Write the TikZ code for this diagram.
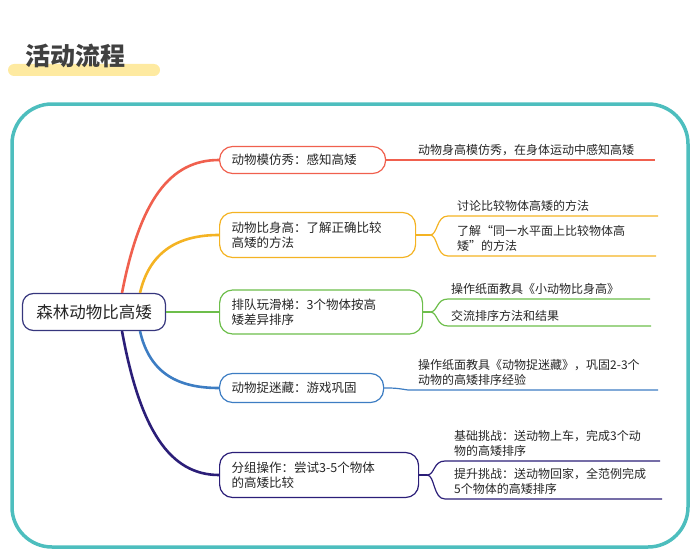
\documentclass[tikz,border=0pt]{standalone}
\usepackage{fontspec}
\setmainfont{Noto Sans CJK SC}
\definecolor{cR}{HTML}{F0604E}
\definecolor{cO}{HTML}{F4B323}
\definecolor{cG}{HTML}{6DBE4B}
\definecolor{cB}{HTML}{3D7DC3}
\definecolor{cN}{HTML}{2B1E78}
\definecolor{cT}{HTML}{4DBEBE}
\begin{document}
\begin{tikzpicture}[x=1pt,y=-1pt,
 br/.style={draw=#1,rounded corners=13pt,line width=1.2pt,fill=white,font=\fontsize{12.5}{15}\selectfont,text=black!85,align=left,anchor=west,inner xsep=12pt},
 lf/.style={font=\fontsize{12}{15}\selectfont,text=black!85,align=left,anchor=south west,inner sep=2pt},
 ul/.style={draw=#1,line width=1.2pt},
 tr/.style={draw=#1,line width=2.6pt}]
\useasboundingbox (0,0) rectangle (700,559);
\fill[yellow!60!orange!35,rounded corners=6pt] (8,64) rectangle (160,76);
\node[font=\fontsize{25}{28}\bfseries\selectfont,text=black!75,anchor=west] (title) at (22,56) {活动流程};
\draw[draw=cT,line width=3.5pt,rounded corners=40pt] (12,104) rectangle (688,547);
% root
\node[draw=gray!60!blue!70!black,line width=1.2pt,rounded corners=11pt,minimum width=143pt,minimum height=37pt,font=\fontsize{16.5}{18}\selectfont,text=black!85] (root) at (94,312) {森林动物比高矮};
% branches
\node[br=cR,minimum height=27pt,text width=142pt] (b1) at (219,160) {动物模仿秀：感知高矮};
\node[br=cO,minimum height=45pt,text width=172pt] (b2) at (219,235) {动物比身高：了解正确比较\\高矮的方法};
\node[br=cG,minimum height=44pt,text width=179pt] (b3) at (219,312) {排队玩滑梯：3个物体按高\\矮差异排序};
\node[br=cB,minimum height=29pt,text width=140pt] (b4) at (219,388) {动物捉迷藏：游戏巩固};
\node[br=cN,minimum height=45pt,text width=175pt] (b5) at (219,475) {分组操作：尝试3-5个物体\\的高矮比较};
% root connectors
\draw[tr=cR] (root.north) ++(28,0) .. controls (140,200) and (170,160) .. (b1.west);
\draw[tr=cO] (root.north) ++(46,0) .. controls (150,250) and (180,235) .. (b2.west);
\draw[tr=cG] (root.east) -- (b3.west);
\draw[tr=cB] (root.south) ++(46,0) .. controls (150,375) and (180,388) .. (b4.west);
\draw[tr=cN] (root.south) ++(28,0) .. controls (140,430) and (170,475) .. (b5.west);
% leaves
\coordinate (l1) at (408,160);
\node[lf] (t1) at (416,158) {动物身高模仿秀，在身体运动中感知高矮};
\draw[ul=cR] (b1.east) -- (l1) -- (655,160);
% branch 2
\coordinate (j2) at (430,235);
\coordinate (l21) at (448,216); \coordinate (l22) at (448,256);
\node[lf] (t21) at (455,214) {讨论比较物体高矮的方法};
\node[lf] (t22) at (455,254) {了解“同一水平面上比较物体高\\矮”的方法};
\draw[ul=cO] (b2.east) -- (j2);
\draw[ul=cO] (j2) .. controls (438,235) and (436,216) .. (l21) -- (658,216);
\draw[ul=cO] (j2) .. controls (438,235) and (436,256) .. (l22) -- (656,256);
% branch 3
\coordinate (j3) at (430,312);
\coordinate (l31) at (448,299); \coordinate (l32) at (448,326);
\node[lf] (t31) at (449,297) {操作纸面教具《小动物比身高》};
\node[lf] (t32) at (449,324) {交流排序方法和结果};
\draw[ul=cG] (b3.east) -- (j3);
\draw[ul=cG] (j3) .. controls (438,312) and (436,299) .. (l31) -- (650,299);
\draw[ul=cG] (j3) .. controls (438,312) and (436,326) .. (l32) -- (651,326);
% branch 4
\coordinate (l4) at (408,390);
\node[lf] (t4) at (416,388) {操作纸面教具《动物捉迷藏》，巩固2-3个\\动物的高矮排序经验};
\draw[ul=cB] (b4.east) .. controls (395,388) .. (l4) -- (658,390);
% branch 5
\coordinate (j5) at (427,475);
\coordinate (l51) at (445,461); \coordinate (l52) at (445,499);
\node[lf] (t51) at (452,459) {基础挑战：送动物上车，完成3个动\\物的高矮排序};
\node[lf] (t52) at (452,497) {提升挑战：送动物回家，全范例完成\\5个物体的高矮排序};
\draw[ul=cN] (b5.east) -- (j5);
\draw[ul=cN] (j5) .. controls (435,475) and (433,461) .. (l51) -- (660,461);
\draw[ul=cN] (j5) .. controls (435,475) and (433,499) .. (l52) -- (662,499);
\end{tikzpicture}
\end{document}
